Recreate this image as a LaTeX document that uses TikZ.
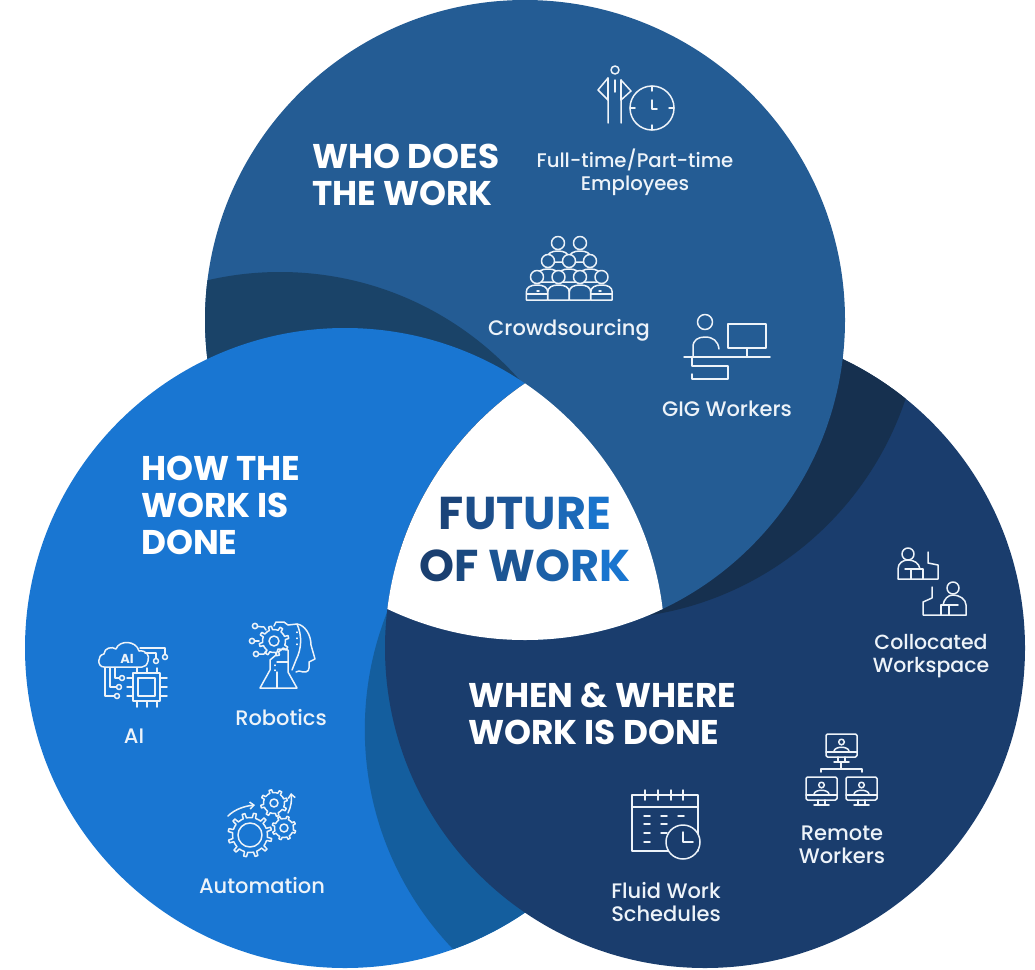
\documentclass[tikz,border=0pt]{standalone}
\usepackage{fontspec}
\setmainfont{Poppins}
\newfontfamily\labelf{Poppins Medium}
\usetikzlibrary{arrows.meta}
\definecolor{topc}{HTML}{245C94}
\definecolor{leftc}{HTML}{1976D2}
\definecolor{rightc}{HTML}{1A3D6D}
\definecolor{topsh}{HTML}{1A4368}
\definecolor{rightsh}{HTML}{16304F}
\definecolor{leftsh}{HTML}{145E9E}
\definecolor{inkc}{HTML}{EDF3F9}
\def\circT{(525,320) circle[radius=320pt]}
\def\circL{(345,648) circle[radius=320pt]}
\def\circR{(705,648) circle[radius=320pt]}
\newcommand{\cl}[2]{{\color[HTML]{#1}#2}}
\newcommand{\gearshape}[7]{% cx cy ro ri teeth hole rot
  \draw[icon] ({#1+#4*cos(#7)},{#2+#4*sin(#7)})
    foreach \k in {1,...,#5}{
      -- ({#1+#4*cos(#7+360*(\k-1)/#5+90/#5)},{#2+#4*sin(#7+360*(\k-1)/#5+90/#5)})
      -- ({#1+#3*cos(#7+360*(\k-1)/#5+110/#5)},{#2+#3*sin(#7+360*(\k-1)/#5+110/#5)})
      -- ({#1+#3*cos(#7+360*(\k-1)/#5+200/#5)},{#2+#3*sin(#7+360*(\k-1)/#5+200/#5)})
      -- ({#1+#4*cos(#7+360*(\k-1)/#5+220/#5)},{#2+#4*sin(#7+360*(\k-1)/#5+220/#5)})
      -- ({#1+#4*cos(#7+360*\k/#5)},{#2+#4*sin(#7+360*\k/#5)})
    } -- cycle;
  \draw[icon] (#1,#2) circle[radius=#6pt];
}
\newcommand{\crowdp}[3]{% cx heady bottomy
  \filldraw[icon,fill=topc] ({#1-10.7},#3) -- ({#1-10.7},{#2+15})
     .. controls ({#1-10.7},{#2+10}) and ({#1-6},{#2+8}) .. (#1,{#2+8})
     .. controls ({#1+6},{#2+8}) and ({#1+10.7},{#2+10}) .. ({#1+10.7},{#2+15})
     -- ({#1+10.7},#3) -- cycle;
  \filldraw[icon,fill=topc] (#1,#2) circle[radius=6.5pt];
}
\newcommand{\screen}[2]{% left top
  \draw[icon,rounded corners=1.5pt] (#1,#2) rectangle ({#1+31},{#2+23});
  \draw[icon] (#1,{#2+18}) -- ({#1+31},{#2+18});
  \draw[icon] ({#1+15.5},{#2+8}) circle[radius=2.8pt];
  \draw[icon] ({#1+8},{#2+17}) .. controls ({#1+9},{#2+12}) and ({#1+22},{#2+12}) .. ({#1+23},{#2+17});
  \draw[icon] ({#1+12},{#2+23}) -- ({#1+12},{#2+28}) ({#1+19},{#2+23}) -- ({#1+19},{#2+28});
  \draw[icon] ({#1+8},{#2+28}) -- ({#1+23},{#2+28});
}
\tikzset{
  icon/.style={draw=inkc,line width=1.5pt,line join=round,line cap=round},
  headtext/.style={text=white,font=\bfseries\fontsize{34.3}{37}\selectfont,align=left,inner sep=0pt,anchor=base west},
  labeltext/.style={text=inkc,font=\labelf\fontsize{21}{23}\selectfont,align=center,inner sep=0pt},
  centertext/.style={font=\bfseries\fontsize{46}{52}\selectfont,inner sep=0pt,anchor=center}
}
\begin{document}
\begin{tikzpicture}[x=1pt,y=-1pt]
\useasboundingbox (0,0) rectangle (1035,969);
% top circle and its shadow
\fill[topc] \circT;
\begin{scope}\clip \circT; \fill[topsh] (280,592) circle[radius=320pt]; \end{scope}
% left circle and its shadow
\fill[leftc] \circL;
\begin{scope}\clip \circL; \fill[leftsh] (682.5,729.4) circle[radius=317.7pt]; \end{scope}
% right circle and its shadow
\fill[rightc] \circR;
\begin{scope}\clip \circR; \fill[rightsh] (600,297) circle[radius=322pt]; \end{scope}
% top over right (slightly enlarged so that no seam of the right circle shows)
\begin{scope}\clip (525,0) rectangle (1035,969); \clip \circT; \fill[topc] (705,648) circle[radius=322pt]; \end{scope}
% white centre
\begin{scope}\clip \circT; \clip \circL; \fill[white] \circR; \end{scope}

% texts
\node[headtext] (who) at (312,205) {WHO DOES\\THE WORK};
\node[headtext] (how) at (141,554) {HOW THE\\WORK IS\\DONE};
\node[headtext] (when) at (468,744) {WHEN \& WHERE\\WORK IS DONE};
\node[centertext] (fut1) at (525,514) {\cl{1B4479}{F}\cl{1C4E8A}{U}\cl{1D5596}{T}\cl{1C5FA7}{U}\cl{1B69B8}{R}\cl{1A74CC}{E}};
\node[centertext,font=\bfseries\fontsize{44.5}{52}\selectfont] (fut2) at (525,566) {\cl{1A3F70}{O}\cl{1B4A80}{F} \cl{1C5593}{W}\cl{1B60A7}{O}\cl{1B6AB9}{R}\cl{1975CF}{K}};
\node[labeltext,font=\labelf\fontsize{19.7}{23}\selectfont] (l1) at (635,172) {Full-time/Part-time\\Employees};
\node[labeltext] (l2) at (569,330) {Crowdsourcing};
\node[labeltext] (l3) at (727,409) {GIG Workers};
\node[labeltext,font=\labelf\fontsize{20.5}{23}\selectfont] (l4) at (931,656.5) {Collocated\\Workspace};
\node[labeltext] (l5) at (842,845) {Remote\\Workers};
\node[labeltext] (l6) at (666,901.5) {Fluid Work\\Schedules};
\node[labeltext] (l7) at (134,736) {AI};
\node[labeltext] (l8) at (281,717) {Robotics};
\node[labeltext] (l9) at (262,885) {Automation};

% employee + clock icon
\draw[icon] (615,70) circle[radius=4pt];
\draw[icon] (608,78) -- (598,90) -- (608,100) -- (608,123);
\draw[icon] (608,78) -- (608,100);
\draw[icon] (621,80) -- (631,91) -- (621,100) -- (621,123);
\draw[icon] (621,80) -- (621,100);
\draw[icon] (615,80) -- (615,92);
\draw[icon] (652,108) circle[radius=22pt];
\draw[icon] (652,86) -- (652,91) (652,130) -- (652,125) (630,108) -- (635,108) (674,108) -- (669,108);
\draw[icon] (652,100) -- (652,109) -- (657,109);

% crowd icon
\crowdp{558}{243}{262}\crowdp{580}{243}{262}
\crowdp{548}{261}{282}\crowdp{569}{261}{282}\crowdp{590}{261}{282}
\crowdp{537}{277}{300}\crowdp{558.5}{277}{300}\crowdp{580}{277}{300}\crowdp{601.5}{277}{300}
\draw[icon] (526.5,294) -- (547.5,294) (591,294) -- (612,294);
\draw[icon] (537,291) -- (539,291) (599,291) -- (601,291);

% GIG icon
\draw[icon] (705,322) circle[radius=7.5pt];
\draw[icon] (693,357) -- (693,347) .. controls (693,340) and (698,337) .. (705,337) .. controls (713,337) and (718,341) .. (719,349);
\draw[icon] (684,357) -- (770,357);
\draw[icon] (728,324) rectangle (766,348);
\draw[icon] (747,348) -- (747,357);
\draw[icon] (692,357) -- (692,366) -- (728,366) -- (728,379) -- (692,379) -- (692,374);

% AI icon
\draw[icon] (104,667) .. controls (97,667) and (97,655) .. (104,654) .. controls (104,648) and (112,646) .. (116,649) .. controls (119,640) and (136,640) .. (139,651) .. controls (146,650) and (150,655) .. (148,661) .. controls (147,665) and (145,667) .. (142,667) -- cycle;
\node[text=inkc,font=\bfseries\fontsize{13}{13}\selectfont,inner sep=0pt] (ailogo) at (127,659) {AI};
\draw[icon] (133,673) rectangle (160,701);
\draw[icon] (138,678) rectangle (155,696);
\foreach \yy in {678,687,696}{\draw[icon] (127,\yy) -- (133,\yy) (160,\yy) -- (167,\yy);}
\foreach \xx in {137,147,157}{\draw[icon] (\xx,668) -- (\xx,673) (\xx,701) -- (\xx,707);}
\draw[icon] (115,668) -- (115,678) -- (119.5,678);
\draw[icon] (122,678) circle[radius=2.5pt];
\draw[icon] (110,668) -- (110,687) -- (116.5,687);
\draw[icon] (119,687) circle[radius=2.5pt];
\draw[icon] (105,668) -- (105,696) -- (114.5,696);
\draw[icon] (117,696) circle[radius=2.5pt];
\draw[icon] (140,648) -- (165,648) -- (165,654.5);
\draw[icon] (165,657) circle[radius=2.5pt];
\draw[icon] (145,653) -- (156,653) -- (156,658.5);
\draw[icon] (156,661) circle[radius=2.5pt];

% robotics icon
\gearshape{274}{641}{15}{11.5}{8}{5}{10}
\draw[icon] (255,626) circle[radius=2.6pt] (252,641) circle[radius=2.6pt] (256,654) circle[radius=2.6pt];
\draw[icon] (257.6,626.5) -- (264,627) -- (266,630);
\draw[icon] (254.6,641) -- (259,641);
\draw[icon] (258.6,654) -- (264,654) -- (266,651);
\draw[icon] (274,626) -- (276,622) -- (284,622) -- (288,625) -- (297,624) .. controls (305,625) and (311,635) .. (311,645) -- (315,659) -- (309,662) -- (309,668) .. controls (309,672) and (305,673) .. (299,671) -- (296,672);
\draw[icon] (297,624) .. controls (302,635) and (302,648) .. (296,660) -- (292,670);
\draw[icon] (297,632) -- (297,632.6) (297,638) -- (297,638.6) (297,644) -- (297,644.6);
\draw[icon] (270,660) -- (270,670) -- (260,688) -- (297,688) -- (288,672) -- (288,650) -- (278,649) -- (276,655) -- (270,660);
\draw[icon] (277,672) -- (277,688) (277,662) -- (288,662);
\draw[icon] (275,665) -- (275,665.6) (275,670) -- (275,670.6);

% automation icon
\gearshape{250}{835}{22}{17.5}{12}{12}{0}
\gearshape{274}{803}{13.5}{10.5}{8}{4}{10}
\gearshape{284}{828}{12}{9.5}{8}{4}{0}
\draw[icon,-{Straight Barb[length=4pt,width=7pt]}] (228,816) .. controls (235,809) and (245,806) .. (255,805);
\draw[icon,-{Straight Barb[length=4pt,width=7pt]}] (288,813) .. controls (291,807) and (292,800) .. (291,793);

% collocated icon
\draw[icon] (908,554) circle[radius=6pt];
\draw[icon] (898,579) -- (898,569) .. controls (898,563) and (903,560) .. (908,560) .. controls (914,560) and (919,563) .. (920,569);
\draw[icon] (905,569) -- (923,569) -- (923,579);
\draw[icon] (898,579) -- (938,579) -- (938,565) -- (928,563) -- (928,552);
\draw[icon] (911,569) -- (911,579);
\draw[icon] (953,588) circle[radius=6pt];
\draw[icon] (966,615) -- (966,605) .. controls (966,599) and (959,595) .. (953,595) .. controls (948,595) and (944,599) .. (943,605);
\draw[icon] (958,605) -- (941,605) -- (941,615);
\draw[icon] (966,615) -- (923,615) -- (923,602) -- (932,598) -- (932,587);
\draw[icon] (949,605) -- (949,615);

% calendar icon
\draw[icon] (632,795) rectangle (698,851);
\draw[icon] (632,807) -- (698,807);
\foreach \xx in {645,658,671,683}{\draw[icon] (\xx,790) -- (\xx,800);}
\foreach \xx/\yy in {644/816,644/824,644/833,644/842,661/816,661/824,661/833,678/816}{\draw[icon] (\xx,\yy) -- ({\xx+6},\yy);}
\filldraw[icon,fill=rightc] (683,842) circle[radius=17pt];
\draw[icon] (683,832) -- (683,842) -- (693,842);

% remote workers icon
\screen{826}{734}
\screen{806}{777}
\screen{846}{777}
\draw[icon] (841,763) -- (841,769) (821,772) -- (821,769) -- (862,769) -- (862,772);
\end{tikzpicture}
\end{document}
